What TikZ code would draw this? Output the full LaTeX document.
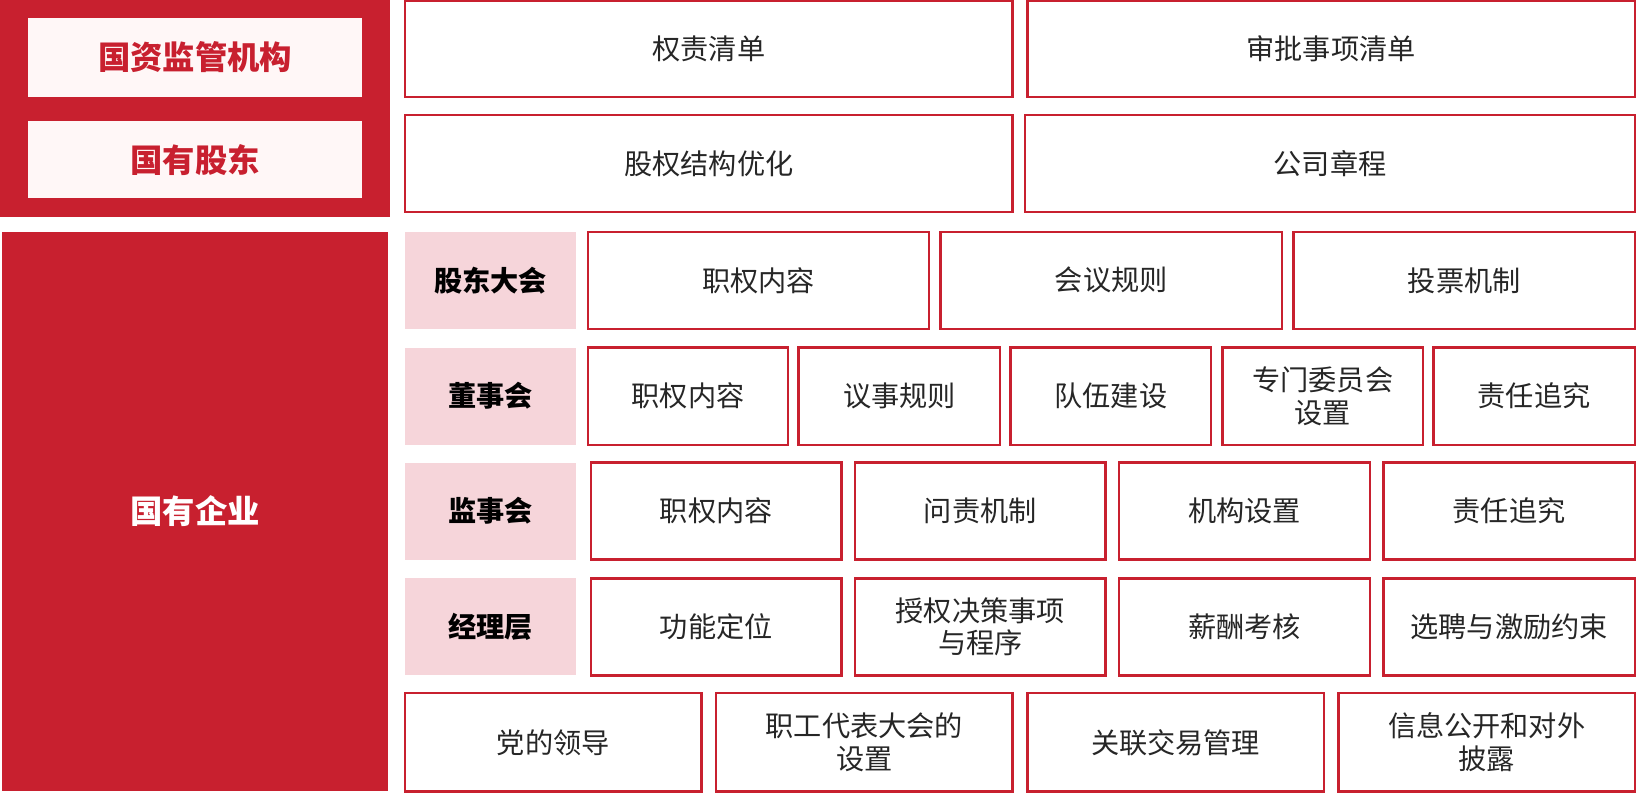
\documentclass[tikz,border=0pt]{standalone}
\usepackage{fontspec}
\setmainfont{Noto Sans CJK SC}
\definecolor{cred}{HTML}{C8202F}
\definecolor{cpink}{HTML}{F6D5DA}
\definecolor{cpale}{HTML}{FFF7F7}
\definecolor{ctext}{HTML}{262626}
\tikzset{
 box/.style={draw=cred,line width=1.2pt,fill=white,text=ctext,font=\fontsize{13.5}{15.5}\selectfont,align=center,inner sep=0pt},
 lab/.style={fill=cpink,text=black,font=\fontsize{13.5}{15.5}\selectfont\bfseries,inner sep=0pt},
 redblk/.style={fill=cred,inner sep=0pt},
 top/.style={fill=cpale,text=cred,font=\fontsize{15.5}{18}\selectfont\bfseries,inner sep=0pt}
}
\newcommand\bx[7]{\node[#1,minimum width={(#4-#2)*0.5pt},minimum height={(#5-#3)*0.5pt}] (#6) at ({(#2+#4)/2},{(#3+#5)/2}) {#7};}
\begin{document}
\begin{tikzpicture}[x=0.5pt,y=-0.5pt]
\useasboundingbox (0,0) rectangle (1568,762.5);
\bx{redblk}{0}{0}{374}{208}{rb}{}
\bx{top}{27}{17}{347}{93}{t1}{国资监管机构}
\bx{top}{27}{116}{347}{190}{t2}{国有股东}
\bx{box}{388}{1}{970}{93}{a1}{权责清单}
\bx{box}{984}{1}{1566}{93}{a2}{审批事项清单}
\bx{box}{388}{110}{970}{203}{a3}{股权结构优化}
\bx{box}{982}{110}{1566}{203}{a4}{公司章程}
\node[redblk,text=white,font=\fontsize{15.5}{18}\selectfont\bfseries,minimum width={370*0.5pt},minimum height={536*0.5pt}] (qy) at (187,490) {国有企业};
\bx{lab}{388}{222}{552}{315}{l1}{股东大会}
\bx{lab}{388}{333}{552}{426}{l2}{董事会}
\bx{lab}{388}{443}{552}{536}{l3}{监事会}
\bx{lab}{388}{554}{552}{647}{l4}{经理层}
\bx{box}{563}{222}{890}{315}{b1}{职权内容}
\bx{box}{901}{222}{1228}{315}{b2}{会议规则}
\bx{box}{1239}{222}{1566}{315}{b3}{投票机制}
\bx{box}{563}{333}{755}{426}{c1}{职权内容}
\bx{box}{765}{333}{958}{426}{c2}{议事规则}
\bx{box}{968}{333}{1160}{426}{c3}{队伍建设}
\bx{box}{1171}{333}{1363}{426}{c4}{专门委员会\\设置}
\bx{box}{1373}{333}{1566}{426}{c5}{责任追究}
\bx{box}{566}{443}{806}{536}{d1}{职权内容}
\bx{box}{819}{443}{1059}{536}{d2}{问责机制}
\bx{box}{1072}{443}{1312}{536}{d3}{机构设置}
\bx{box}{1325}{443}{1566}{536}{d4}{责任追究}
\bx{box}{566}{554}{806}{647}{e1}{功能定位}
\bx{box}{819}{554}{1059}{647}{e2}{授权决策事项\\与程序}
\bx{box}{1072}{554}{1312}{647}{e3}{薪酬考核}
\bx{box}{1325}{554}{1566}{647}{e4}{选聘与激励约束}
\bx{box}{388}{664}{672}{758}{f1}{党的领导}
\bx{box}{686}{664}{970}{758}{f2}{职工代表大会的\\设置}
\bx{box}{984}{664}{1268}{758}{f3}{关联交易管理}
\bx{box}{1282}{664}{1566}{758}{f4}{信息公开和对外\\披露}
\end{tikzpicture}
\end{document}
